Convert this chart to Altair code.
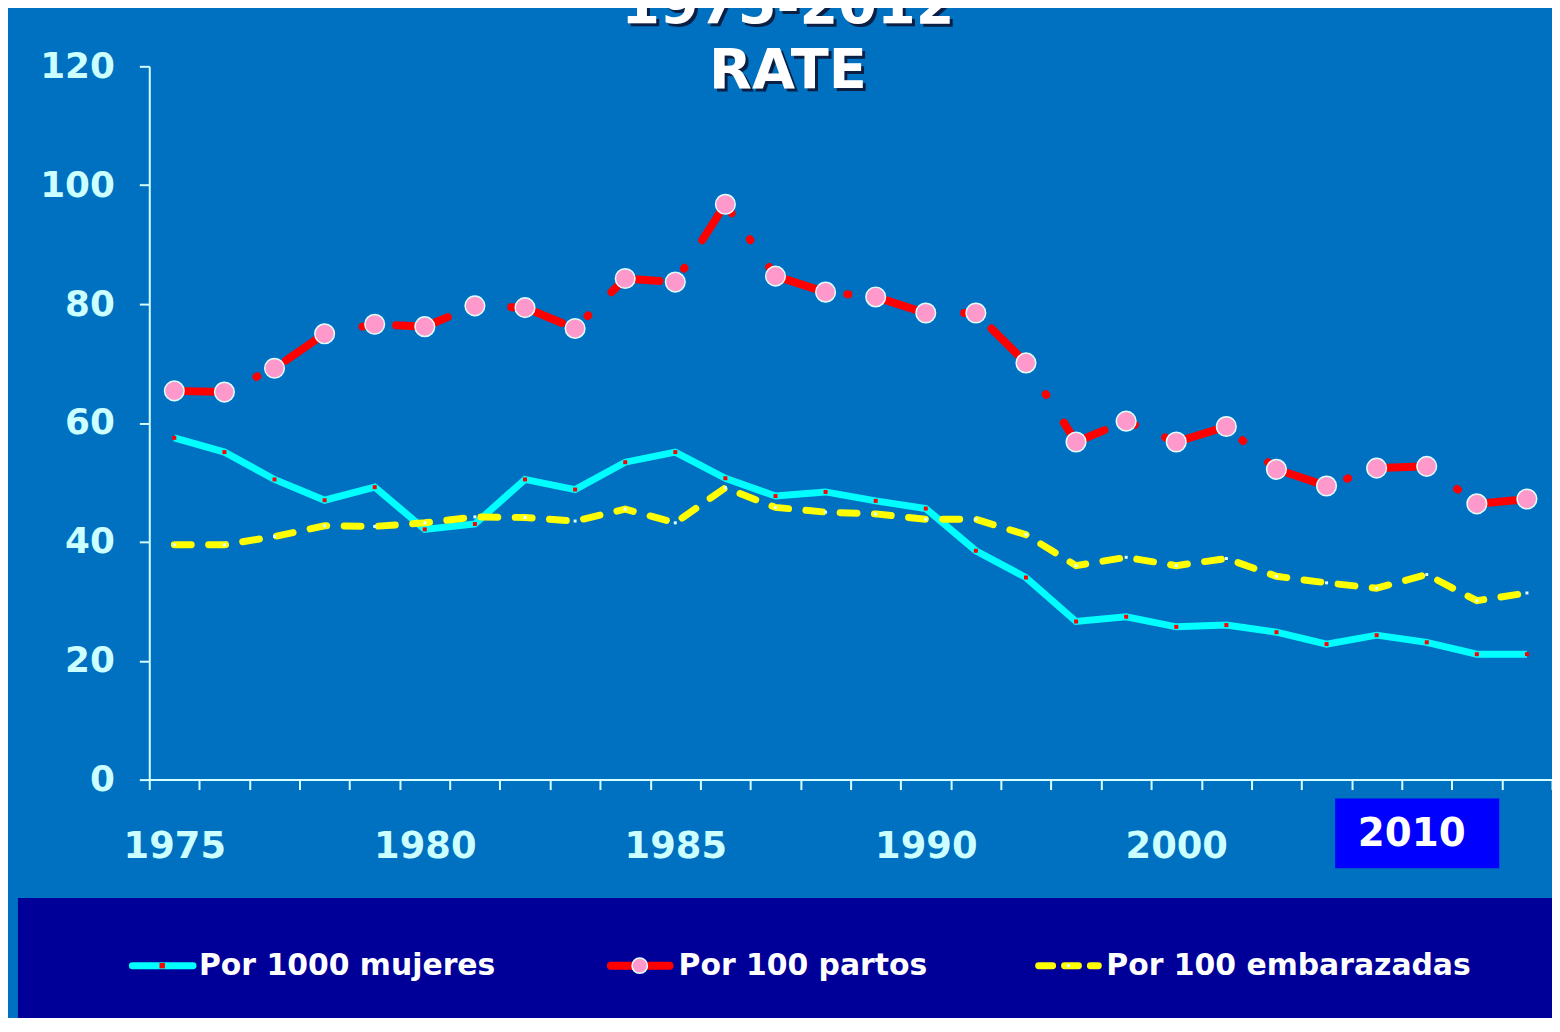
import altair as alt
import pandas as pd

# ---- data ----
idx = list(range(28))
x_labels = ["1975", "", "", "", "", "1980", "", "", "", "", "1985", "", "", "", "",
            "1990", "", "", "", "", "2000", "", "", "", "", "", "", ""]
y_ticks = [0, 20, 40, 60, 80, 100, 120]
mujeres = [57.5, 55.1, 50.5, 47.0, 49.2, 42.1, 43.0, 50.5, 48.8, 53.4, 55.1, 50.7, 47.7, 48.4,
           46.9, 45.6, 38.5, 34.0, 26.6, 27.4, 25.7, 26.0, 24.8, 22.8, 24.3, 23.1, 21.1, 21.1]
partos = [65.4, 65.2, 69.2, 75.0, 76.6, 76.2, 79.7, 79.4, 75.9, 84.3, 83.7, 96.8, 84.7, 82.0,
          81.2, 78.5, 78.5, 70.1, 56.8, 60.3, 56.8, 59.4, 52.2, 49.4, 52.4, 52.7, 46.4, 47.2]
embarazadas = [39.5, 39.5, 40.9, 42.7, 42.6, 43.2, 44.2, 44.1, 43.5, 45.5, 43.2, 49.1, 45.8, 45.0,
               44.7, 43.8, 43.8, 41.2, 36.0, 37.4, 36.0, 37.2, 34.2, 33.1, 32.2, 34.5, 30.1, 31.4]
series_names = ["Por 1000 mujeres", "Por 100 partos", "Por 100 embarazadas"]
title_lines = ["1975-2012", "RATE"]
highlight_label = "2010"

df = pd.DataFrame({"i": idx, "mujeres": mujeres, "partos": partos, "embarazadas": embarazadas})
one = pd.DataFrame({"a": [0]})

FONT = "DejaVu Sans"
BG = "#0070C0"
AXIS_C = "#D6FFFF"
LABEL_C = "#CCFFFF"

label_expr = "[" + ",".join("'%s'" % s for s in x_labels) + "][datum.value]"

x_enc = alt.X(
    "i:O",
    bandPosition=0.5,
    scale=alt.Scale(type="band", paddingInner=0, paddingOuter=0),
    axis=alt.Axis(
        title=None, labelAngle=0, tickBand="extent", labelExpr=label_expr,
        labelFont=FONT, labelFontSize=37, labelFontWeight="bold", labelColor=LABEL_C,
        labelPadding=39, tickSize=10, tickWidth=2, tickColor=AXIS_C,
        domainColor=AXIS_C, domainWidth=2, grid=False, labelOverlap=False,
    ),
)

y_axis = alt.Axis(
    title=None, values=y_ticks, labelFont=FONT,
    labelFontSize=36, labelFontWeight="bold", labelColor=LABEL_C, labelPadding=25,
    tickSize=10, tickWidth=2, tickColor=AXIS_C, domainColor=AXIS_C, domainWidth=2,
    grid=False,
)


def y_enc(field):
    return alt.Y(field + ":Q", scale=alt.Scale(domain=[0, 120], nice=False, zero=True),
                 axis=y_axis)


base = alt.Chart(df)

# legend background band
legend_box = alt.Chart(one).mark_rect(color="#000099").encode(
    x=alt.value(-132), x2=alt.value(1410), y=alt.value(836), y2=alt.value(980)
)

# highlighted 2010 label
hl_box = alt.Chart(one).mark_rect(color="#0000FF").encode(
    x=alt.value(1192), x2=alt.value(1357), y=alt.value(736), y2=alt.value(806)
)
hl_text = alt.Chart(one).mark_text(
    text=highlight_label, font=FONT, fontSize=39, fontWeight="bold", color="white",
    align="center", baseline="middle",
).encode(x=alt.value(1269), y=alt.value(772))

# series lines
cyan_line = base.mark_line(color="#00FFFF", strokeWidth=7, strokeJoin="miter").encode(
    x=x_enc, y=y_enc("mujeres")
)
cyan_pts = base.mark_square(color="#FF0000", size=16, opacity=1).encode(x=x_enc, y=y_enc("mujeres"))

yellow_line = base.mark_line(
    color="#FFFF00", strokeWidth=7, strokeDash=[17, 17.5], strokeCap="round"
).encode(x=x_enc, y=y_enc("embarazadas"))
yellow_pts = base.mark_square(color="#DDFFFF", size=9, opacity=1).encode(x=x_enc, y=y_enc("embarazadas"))

red_line = base.mark_line(
    color="#FF0000", strokeWidth=8, strokeDash=[54, 32, 1, 33], strokeCap="round"
).encode(x=x_enc, y=y_enc("partos"))
pink_pts = base.mark_circle(
    color="#FF99CC", size=390, opacity=1, stroke="#DDFFFF", strokeWidth=1.5
).encode(x=x_enc, y=y_enc("partos"))


# title with shadow
def title_text(txt, y, color, dx=0, dy=0):
    return alt.Chart(one).mark_text(
        text=txt, font=FONT, fontSize=56, fontWeight="bold", color=color,
        align="center", baseline="alphabetic", dx=dx, dy=dy,
    ).encode(x=alt.value(642), y=alt.value(y))


titles = []
for t, yy in zip(title_lines, [-44, 22]):
    titles.append(title_text(t, yy, "#0B1F45", dx=3, dy=3))
    titles.append(title_text(t, yy, "white"))

# manual legend
LY = 904
leg_items = []
# cyan
leg_items.append(alt.Chart(one).mark_rule(color="#00FFFF", strokeWidth=7, strokeCap="round").encode(
    x=alt.value(-17), x2=alt.value(44), y=alt.value(LY)))
leg_items.append(alt.Chart(one).mark_square(color="#FF0000", size=30, opacity=1).encode(
    x=alt.value(13), y=alt.value(LY)))
# red
leg_items.append(alt.Chart(one).mark_rule(color="#FF0000", strokeWidth=8, strokeCap="round").encode(
    x=alt.value(464), x2=alt.value(523), y=alt.value(LY)))
leg_items.append(alt.Chart(one).mark_circle(color="#FF99CC", size=240, opacity=1, stroke="#DDFFFF",
                                            strokeWidth=1.5).encode(x=alt.value(493), y=alt.value(LY)))
# yellow
leg_items.append(alt.Chart(one).mark_rule(color="#FFFF00", strokeWidth=7, strokeCap="round",
                                          strokeDash=[14, 12]).encode(
    x=alt.value(894), x2=alt.value(954), y=alt.value(LY)))
leg_items.append(alt.Chart(one).mark_square(color="#DDFFFF", size=9, opacity=1).encode(
    x=alt.value(924), y=alt.value(LY)))

for name, xx in zip(series_names, [50, 532, 962]):
    leg_items.append(alt.Chart(one).mark_text(
        text=name, font=FONT, fontSize=30, fontWeight="bold", color="white",
        align="left", baseline="middle",
    ).encode(x=alt.value(xx), y=alt.value(LY)))

chart = alt.layer(
    legend_box, hl_box, hl_text,
    cyan_line, cyan_pts, yellow_line, yellow_pts, red_line, pink_pts,
    *titles, *leg_items,
).resolve_scale(x="shared", y="shared").properties(
    width=1410, height=717,
    autosize=alt.AutoSizeParams(type="none"),
    padding={"left": 142, "top": 56, "right": 0, "bottom": 237},
    background=BG,
).configure_view(strokeWidth=0)

chart.save("out.html", embed_options={"renderer": "svg", "actions": False})
